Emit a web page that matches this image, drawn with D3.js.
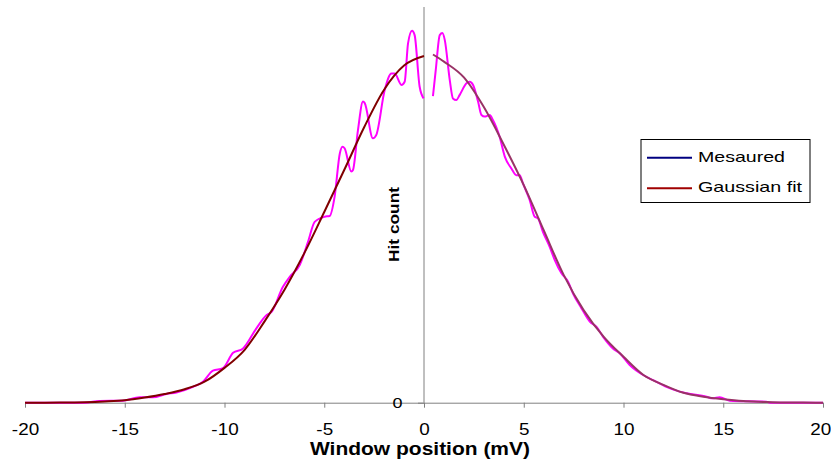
<!DOCTYPE html>
<html>
<head>
    <title>Hit count vs window position</title>
    <style>
        body { margin: 0; background: #fff; }
        svg { display: block; font-family: Arial, "Liberation Sans", sans-serif; }
        .axis path, .axis line { stroke: #808080; }
        .tick text { fill: #000; }
    </style>
</head>
<body>
    <div id="chart"></div>
    <script src="https://d3js.org/d3.v7.min.js"></script>
    <script>
        // window position (mV) and hit count (arbitrary units, 0..100)
        const measuredLeftX = [-20, -17.0, -16.26, -15.1, -14.25, -13.6, -12.91, -12.41, -11.58, -11.08, -10.58, -10.08,
            -9.57, -9.07, -8.4, -7.9, -7.65, -7.07, -6.73, -6.23, -5.81, -5.48, -4.98, -4.73, -4.48, -4.22, -4.09,
            -3.98, -3.64, -3.56, -3.31, -3.06, -2.97, -2.56, -2.39, -1.97, -1.63, -1.47, -1.13, -0.97, -0.8, -0.6,
            -0.47, -0.22, -0.02];
        const measuredLeftY = [0, 0, 0.43, 0.5, 1.36, 1.36, 2.2, 2.6, 4.0, 5.3, 8.1, 8.7,
            12.6, 13.7, 18.8, 22.1, 22.9, 29.3, 31.8, 34.8, 40.7, 45.7, 47.0, 47.2, 52.1, 63.0, 64.7,
            64.3, 58.4, 58.8, 68.9, 76.1, 75.7, 66.8, 67.7, 79.0, 83.2, 83.2, 80.3, 81.1, 90.8, 94.0,
            92.9, 79.9, 76.9];

        const measuredRightX = [0.45, 0.59, 0.79, 0.92, 1.04, 1.29, 1.45, 1.62, 1.79, 2.13, 2.29, 2.46, 2.71, 2.88,
            3.04, 3.29, 3.46, 3.79, 4.05, 4.38, 4.63, 4.8, 4.96, 5.3, 5.55, 5.71, 5.96, 6.3, 6.55, 6.89, 7.22,
            7.47, 7.89, 8.31, 8.64, 8.97, 9.47, 9.81, 10.31, 10.98, 11.48, 12.15, 12.82, 13.17, 14.17, 14.47,
            14.82, 15.32, 17.16, 17.33, 20];
        const measuredRightY = [77.5, 84.1, 92.9, 93.4, 91.7, 81.6, 76.9, 76.5, 77.8, 80.7, 81.1, 80.3, 76.1, 72.7,
            72.3, 72.7, 71.4, 67.2, 62.2, 59.2, 57.5, 57.5, 55.4, 51.2, 47.0, 46.6, 43.2, 39.4, 36.1, 32.7, 30.6,
            27.6, 23.9, 20.5, 19.2, 16.7, 13.7, 12.5, 9.5, 7.0, 5.7, 4.0, 2.8, 2.4, 1.5, 1.1,
            1.4, 0.5, 0.25, 0, 0];

        const fitLeftX = [-20, -19, -18, -17, -16, -15, -14, -13, -12, -11, -10, -9, -8, -7, -6, -5, -4, -3, -2, -1, 0];
        const fitLeftY = [0, 0, 0.05, 0.12, 0.3, 0.6, 1.3, 2.2, 3.4, 5.3, 8.8, 13.3, 20.5, 28.5, 37.8, 48.2, 58.8,
            69.6, 79.1, 85.2, 87.6];

        const fitRightX = [0.45, 1, 2, 3, 4, 5, 6, 7, 8, 9, 10, 11, 12, 13, 14, 15, 16, 17, 18, 19, 20];
        const fitRightY = [88.0, 86.2, 82.2, 74.7, 65.2, 55.0, 43.6, 32.3, 23.4, 16.7, 11.6, 7.0, 4.5, 2.5, 1.5,
            0.86, 0.4, 0.2, 0.05, 0.02, 0];

        const xTicks = [-20, -15, -10, -5, 0, 5, 10, 15, 20];
        const yTicks = [0];
        const legendLabels = ["Mesaured", "Gaussian fit"];
        const legendColors = ["#000080", "#a00000"];

        const W = 831, H = 459;
        const svg = d3.select("#chart").append("svg")
            .attr("width", W)
            .attr("height", H);

        const x = d3.scaleLinear().domain([-20, 20]).range([25, 823]);
        const y = d3.scaleLinear().domain([0, 100]).range([402.7, 7]);

        // x axis along the baseline
        const xAxis = svg.append("g")
            .attr("class", "axis")
            .attr("transform", "translate(0," + y(0) + ")")
            .call(d3.axisBottom(x).tickValues(xTicks).tickSize(5).tickSizeOuter(0).tickFormat(d3.format("d")));
        xAxis.selectAll(".tick text")
            .attr("y", 32).attr("dy", 0)
            .attr("font-size", 16)
            .attr("transform", "scale(1.18,1)")
            .text(d => d < 0 ? "-" + Math.abs(d) : d);
        // last label sits against the right edge, as in the original
        xAxis.selectAll(".tick text").filter(d => d === 20)
            .attr("text-anchor", "end")
            .attr("x", 6.5);

        // y axis at x = 0
        const yAxis = svg.append("g")
            .attr("class", "axis")
            .attr("transform", "translate(" + x(0) + ",0)")
            .call(d3.axisLeft(y).tickValues(yTicks).tickSize(6).tickSizeOuter(0));
        yAxis.select(".domain").attr("d", "M0," + y(0) + "V7").attr("stroke", "#707070");
        yAxis.selectAll(".tick line").attr("stroke", "#000");
        yAxis.selectAll(".tick text")
            .attr("x", -18).attr("dy", "0.35em")
            .attr("font-size", 15)
            .attr("transform", "scale(1.2,1)");

        const line = d3.line()
            .x(d => x(d[0]))
            .y(d => y(d[1]))
            .curve(d3.curveMonotoneX);

        const zip = (a, b) => a.map((v, i) => [v, b[i]]);

        // measured data (drawn magenta in the chart)
        [zip(measuredLeftX, measuredLeftY), zip(measuredRightX, measuredRightY)].forEach(s => {
            svg.append("path")
                .datum(s)
                .attr("fill", "none")
                .attr("stroke", "#ff00ff")
                .attr("stroke-width", 2)
                .attr("d", line);
        });

        // gaussian fit
        svg.append("path")
            .datum(zip(fitRightX, fitRightY))
            .attr("fill", "none")
            .attr("stroke", "#993366")
            .attr("stroke-width", 2)
            .attr("d", line);
        svg.append("path")
            .datum(zip(fitLeftX, fitLeftY))
            .attr("fill", "none")
            .attr("stroke", "#800000")
            .attr("stroke-width", 2)
            .attr("d", line);

        // axis titles
        svg.append("text")
            .attr("x", 420).attr("y", 455)
            .attr("text-anchor", "middle")
            .attr("font-size", 18)
            .attr("font-weight", "bold")
            .attr("textLength", 220)
            .attr("lengthAdjust", "spacingAndGlyphs")
            .text("Window position (mV)");

        svg.append("text")
            .attr("transform", "translate(399,224.5) rotate(-90)")
            .attr("text-anchor", "middle")
            .attr("font-size", 14)
            .attr("font-weight", "bold")
            .attr("textLength", 75)
            .attr("lengthAdjust", "spacingAndGlyphs")
            .text("Hit count");

        // legend
        const legend = svg.append("g");
        legend.append("rect")
            .attr("x", 641).attr("y", 139.5)
            .attr("width", 169).attr("height", 63)
            .attr("fill", "#fff")
            .attr("stroke", "#000");
        const legendWidths = [87, 104];
        legendLabels.forEach((lab, i) => {
            const ly = 157.7 + i * 30.6;
            legend.append("line")
                .attr("x1", 647).attr("x2", 692)
                .attr("y1", ly).attr("y2", ly)
                .attr("stroke", legendColors[i])
                .attr("stroke-width", 2);
            legend.append("text")
                .attr("x", 698).attr("y", ly + 4)
                .attr("font-size", 15)
                .attr("textLength", legendWidths[i])
                .attr("lengthAdjust", "spacingAndGlyphs")
                .text(lab);
        });
    </script>
</body>
</html>
